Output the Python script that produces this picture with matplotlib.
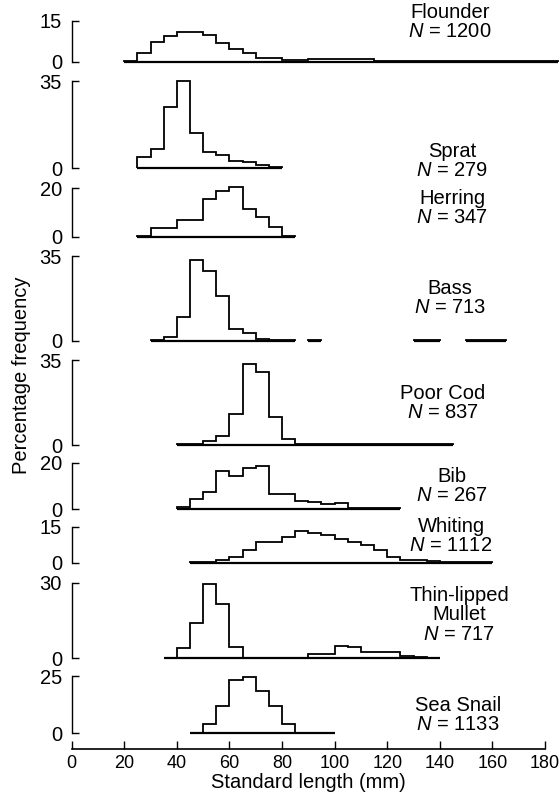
import numpy as np
import matplotlib
matplotlib.use("Agg")
import matplotlib.pyplot as plt

plt.rcParams['font.family'] = ['Liberation Sans', 'DejaVu Sans']
plt.rcParams['mathtext.fontset'] = 'custom'
plt.rcParams['mathtext.it'] = 'Liberation Sans:italic'
plt.rcParams['mathtext.rm'] = 'Liberation Sans'

# ---------------- data ----------------
BIN = 5  # mm
species = ["Flounder", "Sprat", "Herring", "Bass", "Poor Cod", "Bib", "Whiting",
           "Thin-lipped\nMullet", "Sea Snail"]
sample_sizes = [1200, 279, 347, 713, 837, 267, 1112, 717, 1133]
y_max = [15, 35, 20, 35, 35, 20, 15, 30, 25]
first_bin = [20, 25, 25, 30, 40, 40, 45, 35, 45]
nan = np.nan

flounder = [0.3, 3.0, 7.2, 9.5, 11.0, 10.8, 10.0, 7.0, 4.8, 3.1, 1.4, 1.4, 0.7, 0.7,
            0.9, 0.9, 1.0, 1.0, 1.0, 0.3, 0.2, 0.2, 0.2, 0.2, 0.2, 0.2, 0.2, 0.2,
            0.2, 0.2, 0.2, 0.3, 0.2]
sprat = [4.4, 7.8, 24.5, 34.9, 14.1, 6.4, 5.4, 2.8, 2.5, 1.3, 0.6]
herring = [0.3, 3.7, 3.7, 7.1, 7.1, 15.6, 18.9, 20.3, 11.6, 8.0, 3.9, 0.4]
bass = [0.3, 1.6, 9.6, 33.5, 28.9, 18.5, 4.9, 3.2, 0.9, 0.3, 0.3, nan, 0.2, nan,
        nan, nan, nan, nan, nan, nan, 0.15, 0.15, nan, nan, 0.15, 0.15, 0.15]
poor_cod = [0.3, 0.5, 1.6, 3.8, 12.7, 33.5, 30.0, 11.4, 2.4, 0.3, 0.3, 0.3, 0.3,
            0.4, 0.4, 0.3, 0.3, 0.3, 0.3, 0.3, 0.3]
bib = [0.85, 4.4, 7.5, 16.7, 14.6, 17.7, 18.6, 6.8, 6.8, 3.4, 3.0, 2.2, 2.6,
       0.4, 0.4, 0.4, 0.4]
whiting = [0.2, 0.4, 1.0, 2.2, 5.3, 8.7, 8.7, 11.0, 13.5, 12.5, 11.8, 10.0, 8.8,
           7.3, 5.2, 2.2, 1.3, 1.0, 0.7, 0.4, 0.3, 0.3, 0.3]
mullet = [0.3, 4.3, 14.0, 29.5, 21.6, 4.7, 0.3, 0.3, 0.3, 0.3, 0.3, 1.7, 1.7,
          4.9, 4.4, 2.4, 2.4, 2.4, 0.8, 0.4, 0.2]
sea_snail = [0.3, 3.9, 12.1, 23.3, 24.6, 18.6, 12.1, 3.9, 0.3, 0.3, 0.3]

series = [flounder, sprat, herring, bass, poor_cod, bib, whiting, mullet, sea_snail]
x_ticks = [0, 20, 40, 60, 80, 100, 120, 140, 160, 180]

# ---------------- layout (pixels) ----------------
W_PX, H_PX = 560, 799
AX_L, AX_R = 71.7, 545.0
panel_px = [(21, 61.5), (81, 168.3), (188, 237), (256, 340.7), (360, 445),
            (463, 509.3), (527, 562.7), (583, 658.3), (676, 733.3)]
label_px = [(450, 22), (452, 161), (452, 208), (450, 298), (443, 403),
            (452, 486), (451, 536), (459, 615), (458, 715)]
XAXIS_PX = 749
FS = 14.5

fig = plt.figure(figsize=(W_PX / 100, H_PX / 100), dpi=100)
left = AX_L / W_PX
width = (AX_R - AX_L) / W_PX


def draw_hist(ax, start, vals):
    vals = np.asarray(vals, float)
    edges = start + BIN * np.arange(len(vals) + 1)
    valid = ~np.isnan(vals)
    n = len(vals)
    i = 0
    while i < n:
        if not valid[i]:
            i += 1
            continue
        j = i
        while j < n and valid[j]:
            j += 1
        ax.stairs(vals[i:j], edges[i:j + 1], baseline=0, fill=False,
                  color='black', lw=1.3, clip_on=False)
        ax.hlines(0, edges[i], edges[j], color='black', lw=1.6, clip_on=False)
        i = j


for k in range(len(species)):
    top, base = panel_px[k]
    ax = fig.add_axes([left, 1 - base / H_PX, width, (base - top) / H_PX])
    ax.set_xlim(0, 180)
    ax.set_ylim(0, y_max[k])
    for s in ['top', 'right', 'bottom']:
        ax.spines[s].set_visible(False)
    ax.spines['left'].set_linewidth(1.0)
    ax.set_yticks([0, y_max[k]])
    ax.tick_params(axis='y', direction='in', length=5, width=1.0,
                   labelsize=FS, pad=7)
    ax.set_xticks([])
    ax.patch.set_alpha(0)
    draw_hist(ax, first_bin[k], series[k])
    lx, ly = label_px[k]
    fig.text(lx / W_PX, 1 - ly / H_PX,
             f"{species[k]}\n$N$ = {sample_sizes[k]}",
             ha='center', va='center', fontsize=FS, linespacing=1.05)

# x axis
axx = fig.add_axes([left, 1 - XAXIS_PX / H_PX, width, 0.0001])
axx.set_xlim(0, 180)
axx.set_yticks([])
for s in ['top', 'right', 'left']:
    axx.spines[s].set_visible(False)
axx.spines['bottom'].set_linewidth(1.2)
axx.set_xticks(x_ticks)
axx.tick_params(axis='x', direction='in', length=6, width=1.0,
                labelsize=13, pad=4)
axx.patch.set_alpha(0)

fig.text((AX_L + AX_R) / 2 / W_PX, 1 - 783 / H_PX, "Standard length (mm)",
         ha='center', va='center', fontsize=FS)
fig.text(22 / W_PX, 1 - 375 / H_PX, "Percentage frequency", rotation=90,
         ha='center', va='center', fontsize=FS)

fig.savefig("out.png", dpi=100)
